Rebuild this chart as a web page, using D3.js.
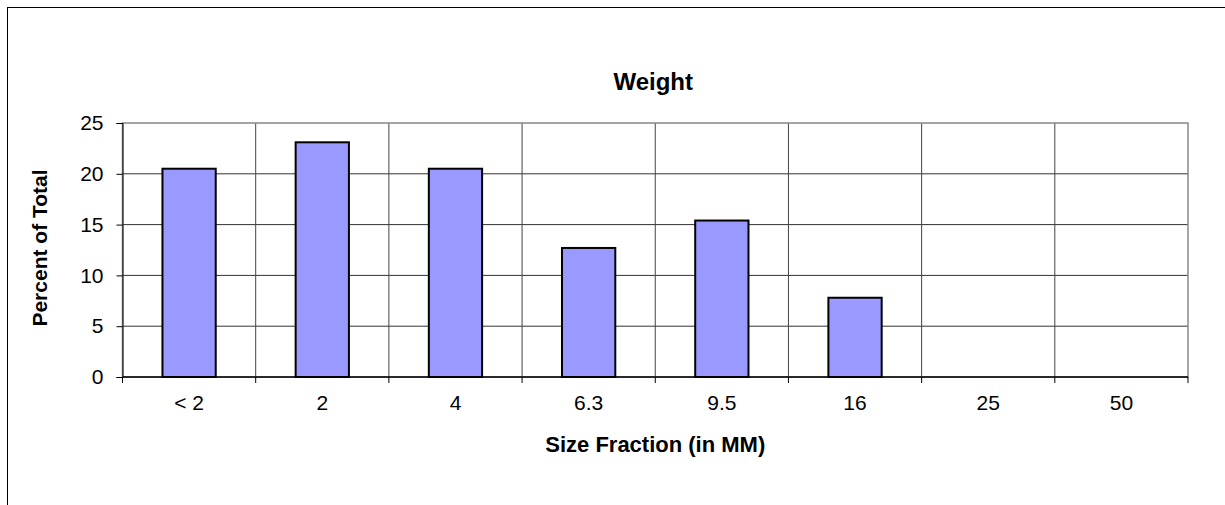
<!DOCTYPE html>
<html>
<head>
<meta charset="utf-8">
<script src="https://d3js.org/d3.v7.min.js"></script>
<style>
  body { margin: 0; background: #fff; }
  svg text { font-family: "Liberation Sans", Arial, sans-serif; }
</style>
</head>
<body>
<div id="vis"></div>
<script>
const FRAME_WIDTH = 1225;
const FRAME_HEIGHT = 505;
const MARGINS = {left: 122.5, right: 37, top: 123, bottom: 128};

// data
const categories = ["< 2", "2", "4", "6.3", "9.5", "16", "25", "50"];
const weights = [20.5, 23.1, 20.5, 12.7, 15.4, 7.8, 0, 0];
const yTicks = [0, 5, 10, 15, 20, 25];

const VIS_WIDTH = FRAME_WIDTH - MARGINS.left - MARGINS.right;
const VIS_HEIGHT = FRAME_HEIGHT - MARGINS.top - MARGINS.bottom;

const svg = d3.select("#vis")
  .append("svg")
    .attr("width", FRAME_WIDTH)
    .attr("height", FRAME_HEIGHT);

// outer chart border (runs off right and bottom edge)
svg.append("rect")
  .attr("x", 7.5).attr("y", 7.5)
  .attr("width", FRAME_WIDTH + 10).attr("height", FRAME_HEIGHT + 10)
  .attr("fill", "none").attr("stroke", "#000").attr("stroke-width", 1);

const X_SCALE = d3.scaleBand()
  .domain(categories)
  .range([0, VIS_WIDTH])
  .paddingInner(0.6)
  .paddingOuter(0.3);

const Y_SCALE = d3.scaleLinear()
  .domain([0, 25])
  .range([VIS_HEIGHT, 0]);

const g = svg.append("g")
  .attr("transform", "translate(" + MARGINS.left + "," + MARGINS.top + ")");

const step = X_SCALE.step();

// horizontal gridlines
g.selectAll(".hgrid")
  .data(yTicks.filter(d => d > 0 && d < 25))
  .enter()
  .append("line")
    .attr("x1", 0).attr("x2", VIS_WIDTH)
    .attr("y1", d => Y_SCALE(d)).attr("y2", d => Y_SCALE(d))
    .attr("stroke", "#333").attr("stroke-width", 1);

// vertical gridlines at category boundaries
g.selectAll(".vgrid")
  .data(categories.slice(1))
  .enter()
  .append("line")
    .attr("x1", (d, i) => (i + 1) * step).attr("x2", (d, i) => (i + 1) * step)
    .attr("y1", 0).attr("y2", VIS_HEIGHT)
    .attr("stroke", "#444").attr("stroke-width", 1);

// plot area border (top/right gray)
g.append("rect")
  .attr("x", 0).attr("y", 0)
  .attr("width", VIS_WIDTH).attr("height", VIS_HEIGHT)
  .attr("fill", "none").attr("stroke", "#888").attr("stroke-width", 1.5);

// bars
g.selectAll(".bar")
  .data(weights.map((v, i) => ({cat: categories[i], v: v})).filter(d => d.v > 0))
  .enter()
  .append("rect")
    .attr("x", d => X_SCALE(d.cat))
    .attr("y", d => Y_SCALE(d.v))
    .attr("width", X_SCALE.bandwidth())
    .attr("height", d => VIS_HEIGHT - Y_SCALE(d.v))
    .attr("fill", "#9999ff")
    .attr("stroke", "#000")
    .attr("stroke-width", 2);

// y axis
const yAxis = g.append("g")
  .call(d3.axisLeft(Y_SCALE).tickValues(yTicks).tickSize(6).tickPadding(13));
yAxis.selectAll("text").attr("font-size", "21px").attr("fill", "#000")
  .style("font-family", "Liberation Sans, Arial, sans-serif");
yAxis.select(".domain").attr("stroke", "#000");
yAxis.selectAll(".tick line").attr("stroke", "#000");

// x axis: line plus ticks at boundaries
const xAxis = g.append("g").attr("transform", "translate(0," + VIS_HEIGHT + ")");
xAxis.append("line")
  .attr("x1", 0).attr("x2", VIS_WIDTH)
  .attr("stroke", "#000").attr("stroke-width", 1.5);
xAxis.selectAll(".xtick")
  .data(d3.range(categories.length + 1))
  .enter()
  .append("line")
    .attr("x1", d => d * step).attr("x2", d => d * step)
    .attr("y1", 0).attr("y2", 6)
    .attr("stroke", "#000");
xAxis.selectAll(".xlab")
  .data(categories)
  .enter()
  .append("text")
    .attr("x", d => X_SCALE(d) + X_SCALE.bandwidth() / 2)
    .attr("y", 33)
    .attr("text-anchor", "middle")
    .attr("font-size", "21px")
    .text(d => d);

// title and axis labels
svg.append("text")
  .attr("x", MARGINS.left + VIS_WIDTH / 2 - 2).attr("y", 90)
  .attr("text-anchor", "middle")
  .attr("font-size", "24px").attr("font-weight", "bold")
  .text("Weight");

svg.append("text")
  .attr("x", MARGINS.left + VIS_WIDTH / 2).attr("y", 452)
  .attr("text-anchor", "middle")
  .attr("font-size", "22px").attr("font-weight", "bold")
  .text("Size Fraction (in MM)");

svg.append("text")
  .attr("transform", "translate(47," + (MARGINS.top + VIS_HEIGHT / 2 - 2) + ") rotate(-90)")
  .attr("text-anchor", "middle")
  .attr("font-size", "21px").attr("font-weight", "bold")
  .text("Percent of Total");
</script>
</body>
</html>
